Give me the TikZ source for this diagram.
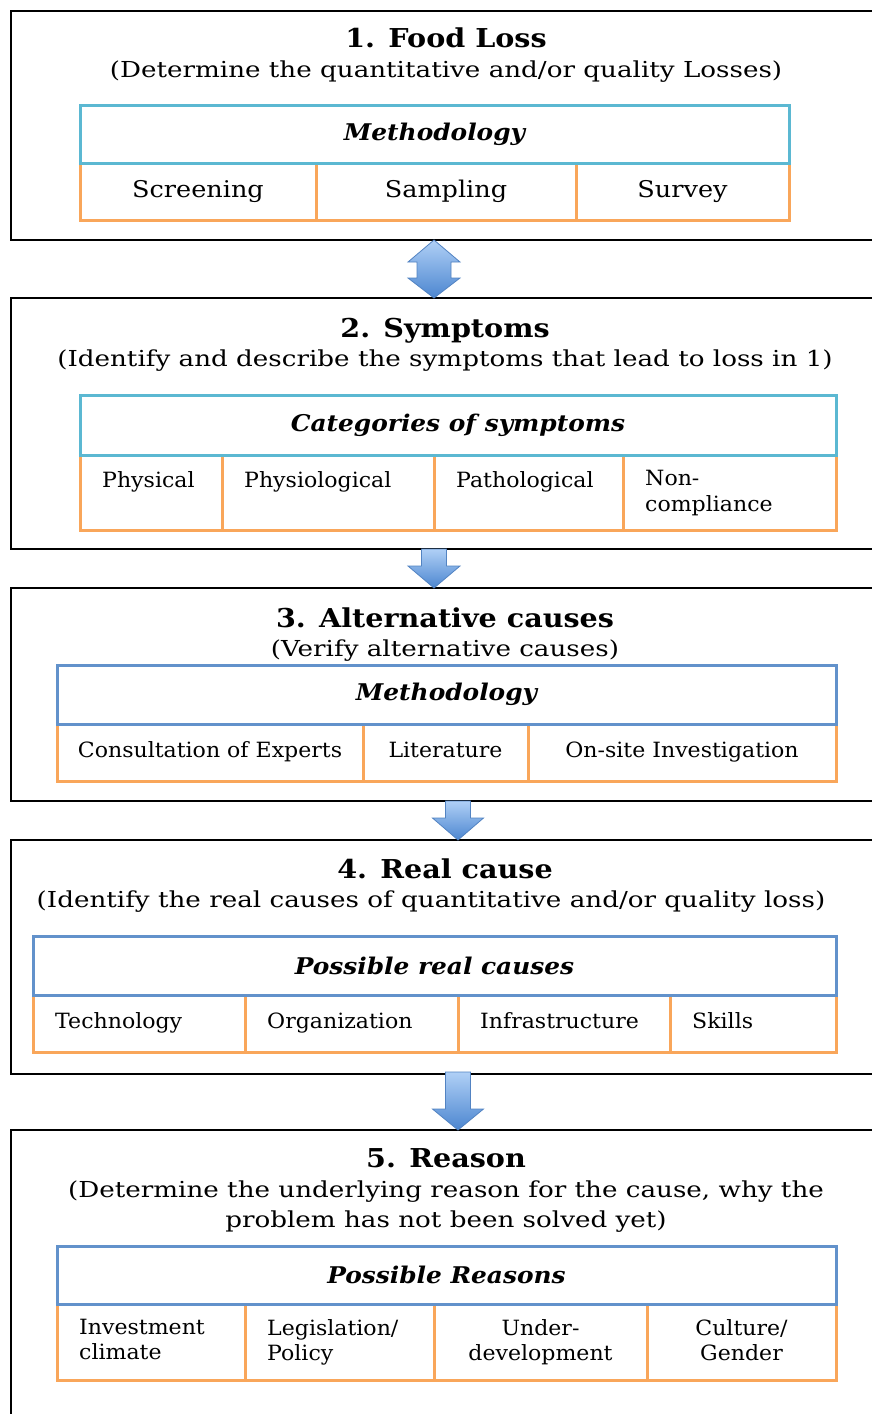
\documentclass[tikz,border=0pt]{standalone}
\usepackage{fontspec}
\setmainfont{DejaVu Serif}
\newfontfamily\subf[FakeStretch=1.19]{DejaVu Serif}
\newfontfamily\ttlf[FakeStretch=1.1]{DejaVu Serif}
\newfontfamily\hdrf[FakeStretch=1.08]{DejaVu Serif}
\newfontfamily\cellf[FakeStretch=1.05]{DejaVu Serif}
\newfontfamily\cellaf[FakeStretch=1.11]{DejaVu Serif}
\usetikzlibrary{calc}
\definecolor{cyanb}{HTML}{5BB8D2}
\definecolor{blueb}{HTML}{6292CB}
\definecolor{orng}{HTML}{F9A65A}
\definecolor{alight}{HTML}{B0D0F6}
\definecolor{adark}{HTML}{4C86D0}
\definecolor{aline}{HTML}{5283C2}
\tikzset{
  outerbox/.style={draw=black, line width=2.6pt, anchor=north west, inner sep=0pt, outer sep=0pt},
  hdr/.style={draw=#1, line width=3pt, anchor=north west, inner sep=0pt, outer sep=0pt,
    font=\hdrf\fontsize{23}{28}\selectfont\bfseries\itshape},
  cellc/.style={draw=orng, line width=3pt, anchor=north west, inner sep=0pt, outer sep=0pt,
    text height=15pt, text depth=5pt, font=\cellf\fontsize{21}{26}\selectfont},
  cella/.style={cellc, text height=16.5pt, text depth=5.5pt, font=\cellaf\fontsize{23}{28}\selectfont},
  ttl/.style={anchor=base, inner sep=0pt, font=\ttlf\fontsize{26}{30}\selectfont\bfseries},
  sub/.style={anchor=base, inner sep=0pt, align=center, font=\subf\fontsize{22}{30}\selectfont},
  ctext/.style={inner sep=0pt, align=left, font=\cellf\fontsize{21}{26}\selectfont},
  arrowsty/.style={draw=aline, line width=0.8pt, top color=alight, bottom color=adark},
}
% #1 top coord, #2 tip coord, #3 shaft half width, #4 head half width, #5 head length
\newcommand\downarr[5]{%
  \shade[arrowsty] ($(#1)+(-#3,0)$) -- ($(#1)+(#3,0)$) -- ($(#2)+(#3,-#5)$) -- ($(#2)+(#4,-#5)$)
    -- (#2) -- ($(#2)+(-#4,-#5)$) -- ($(#2)+(-#3,-#5)$) -- cycle;}
\begin{document}
\begin{tikzpicture}[x=1pt,y=-1pt]
\clip (0,0) rectangle (872,1414);
\useasboundingbox (0,0) rectangle (872,1414);
\fill[white] (0,0) rectangle (872,1414);

% ---------- outer boxes
\node[outerbox, minimum width=880pt, minimum height=229pt] (b1) at (11,11) {};
\node[outerbox, minimum width=880pt, minimum height=251pt] (b2) at (11,298) {};
\node[outerbox, minimum width=880pt, minimum height=213pt] (b3) at (11,588) {};
\node[outerbox, minimum width=880pt, minimum height=234pt] (b4) at (11,840) {};
\node[outerbox, minimum width=880pt, minimum height=320pt] (b5) at (11,1130) {};

% ---------- box 1
\node[ttl] (t1) at (446,47) {1. Food Loss};
\node[sub] (s1) at (446,77) {(Determine the quantitative and/or quality Losses)};
\node[cella, minimum width=236pt, minimum height=57pt] (c11) at (80,163) {Screening};
\node[cella, minimum width=260pt, minimum height=57pt] (c12) at (316,163) {Sampling};
\node[cella, minimum width=213pt, minimum height=57pt] (c13) at (576,163) {Survey};
\node[hdr=cyanb, minimum width=709pt, minimum height=58pt] (h1) at (80,105) {Methodology};

% ---------- box 2
\node[ttl] (t2) at (445,337) {2. Symptoms};
\node[sub] (s2) at (445,366) {(Identify and describe the symptoms that lead to loss in 1)};
\node[cellc, minimum width=142pt, minimum height=75pt] (c21) at (80,455) {};
\node[cellc, minimum width=212pt, minimum height=75pt] (c22) at (222,455) {};
\node[cellc, minimum width=189pt, minimum height=75pt] (c23) at (434,455) {};
\node[cellc, minimum width=213pt, minimum height=75pt] (c24) at (623,455) {};
\node[hdr=cyanb, minimum width=756pt, minimum height=60pt] (h2) at (80,395) {Categories of symptoms};
\node[ctext, anchor=base west] (l21) at ($(c21.north west)+(22,32)$) {Physical};
\node[ctext, anchor=base west] (l22) at ($(c22.north west)+(22,32)$) {Physiological};
\node[ctext, anchor=base west] (l23) at ($(c23.north west)+(22,32)$) {Pathological};
\node[ctext, anchor=north west] (l24) at ($(c24.north west)+(22,15)$) {Non-\\compliance};

% ---------- box 3
\node[ttl] (t3) at (445,627) {3. Alternative causes};
\node[sub] (s3) at (445,656) {(Verify alternative causes)};
\node[cellc, minimum width=306pt, minimum height=57pt] (c31) at (57,724) {Consultation of Experts};
\node[cellc, minimum width=165pt, minimum height=57pt] (c32) at (363,724) {Literature};
\node[cellc, minimum width=308pt, minimum height=57pt] (c33) at (528,724) {On-site Investigation};
\node[hdr=blueb, minimum width=779pt, minimum height=59pt] (h3) at (57,665) {Methodology};

% ---------- box 4
\node[ttl] (t4) at (445,878) {4. Real cause};
\node[sub] (s4) at (431,907) {(Identify the real causes of quantitative and/or quality loss)};
\node[cellc, minimum width=212pt, minimum height=57pt] (c41) at (33,995) {};
\node[cellc, minimum width=213pt, minimum height=57pt] (c42) at (245,995) {};
\node[cellc, minimum width=212pt, minimum height=57pt] (c43) at (458,995) {};
\node[cellc, minimum width=166pt, minimum height=57pt] (c44) at (670,995) {};
\node[hdr=blueb, minimum width=803pt, minimum height=59pt] (h4) at (33,936) {Possible real causes};
\node[ctext, anchor=base west] (l41) at ($(c41.north west)+(22,33)$) {Technology};
\node[ctext, anchor=base west] (l42) at ($(c42.north west)+(22,33)$) {Organization};
\node[ctext, anchor=base west] (l43) at ($(c43.north west)+(22,33)$) {Infrastructure};
\node[ctext, anchor=base west] (l44) at ($(c44.north west)+(22,33)$) {Skills};

% ---------- box 5
\node[ttl] (t5) at (446,1167) {5. Reason};
\node[sub, anchor=north] (s5) at (446,1181) {(Determine the underlying reason for the cause, why the\\problem has not been solved yet)};
\node[cellc, minimum width=188pt, minimum height=76pt] (c51) at (57,1304) {};
\node[cellc, minimum width=189pt, minimum height=76pt] (c52) at (245,1304) {};
\node[cellc, minimum width=213pt, minimum height=76pt] (c53) at (434,1304) {};
\node[cellc, minimum width=189pt, minimum height=76pt] (c54) at (647,1304) {};
\node[hdr=blueb, minimum width=779pt, minimum height=58pt] (h5) at (57,1246) {Possible Reasons};
\node[ctext, anchor=north west, font=\cellf\fontsize{21}{25}\selectfont] (l51) at ($(c51.north west)+(22,15)$) {Investment\\climate};
\node[ctext, anchor=north west, font=\cellf\fontsize{21}{25}\selectfont] (l52) at ($(c52.north west)+(22,15)$) {Legislation/\\Policy};
\node[ctext, anchor=north, align=center, font=\cellf\fontsize{21}{25}\selectfont] (l53) at ($(c53.north)+(0,15)$) {Under-\\development};
\node[ctext, anchor=north, align=center, font=\cellf\fontsize{21}{25}\selectfont] (l54) at ($(c54.north)+(0,15)$) {Culture/\\Gender};

% ---------- arrows
\coordinate (ax1) at (434,0);
\coordinate (ax2) at (434,0);
\coordinate (ax3) at (458,0);
\coordinate (ax4) at (458,0);
\coordinate (a1t) at (b1.south -| ax1);
\coordinate (a1b) at (b2.north -| ax1);
\shade[arrowsty] (a1t) -- ($(a1t)+(26,22)$) -- ($(a1t)+(17,22)$) -- ($(a1b)+(17,-20)$) -- ($(a1b)+(26,-20)$)
  -- (a1b) -- ($(a1b)+(-26,-20)$) -- ($(a1b)+(-17,-20)$) -- ($(a1t)+(-17,22)$) -- ($(a1t)+(-26,22)$) -- cycle;
\coordinate (a2t) at (b2.south -| ax2);
\coordinate (a2b) at (b3.north -| ax2);
\downarr{a2t}{a2b}{12.5}{26}{22}
\coordinate (a3t) at (b3.south -| ax3);
\coordinate (a3b) at (b4.north -| ax3);
\downarr{a3t}{a3b}{12.5}{25.5}{22}
\coordinate (a4t) at ($(b4.south -| ax4)+(0,-2)$);
\coordinate (a4b) at (b5.north -| ax4);
\downarr{a4t}{a4b}{12.5}{25.5}{21}
\end{tikzpicture}
\end{document}
